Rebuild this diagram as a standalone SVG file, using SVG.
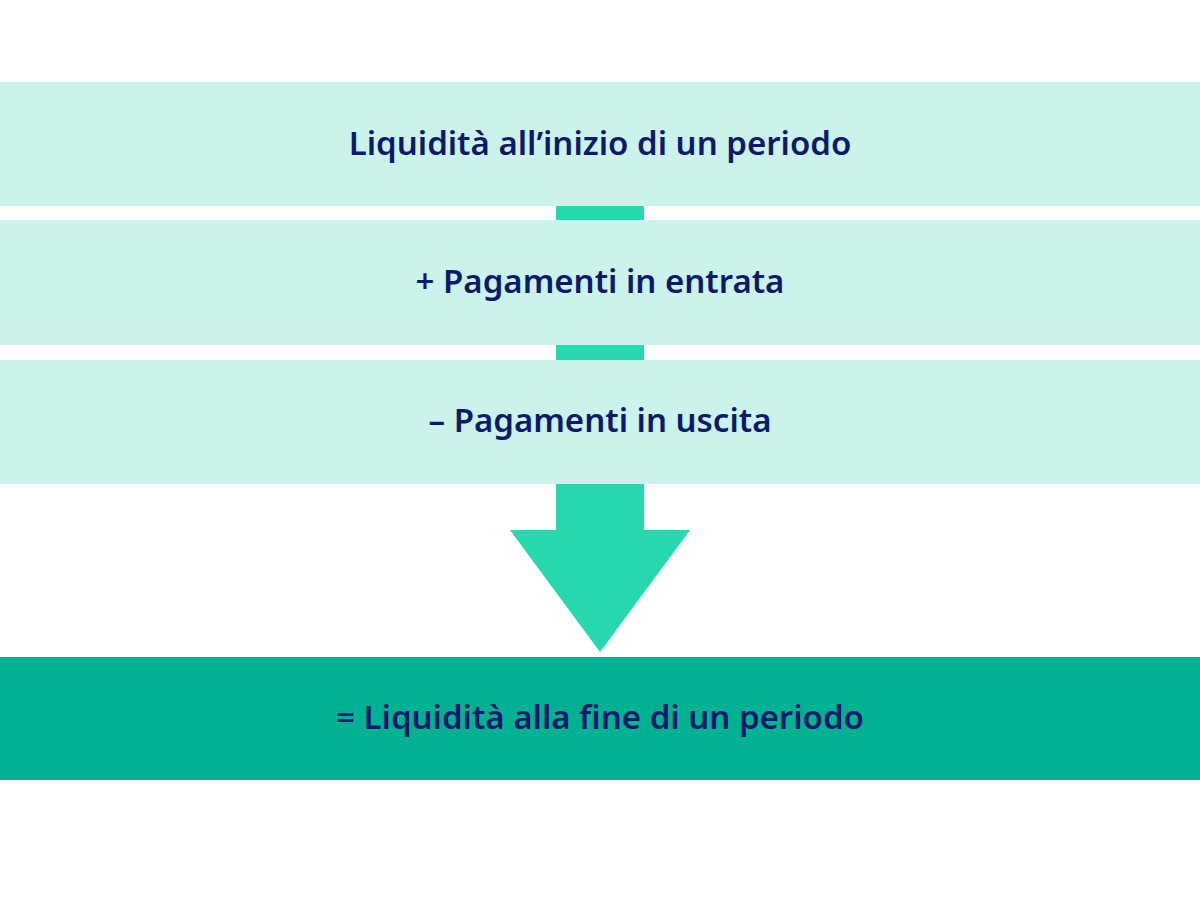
<svg xmlns="http://www.w3.org/2000/svg" width="1200" height="900" viewBox="0 0 1200 900">
<style>
.band{fill:#ccf2ec}
.final{fill:#00b292}
.conn{fill:#25d8ad}
.lbl{font-family:"Noto Sans","Liberation Sans",sans-serif;font-size:33px;font-weight:600;fill:#0c1a6c;text-anchor:middle}
</style>
<rect width="1200" height="900" fill="#ffffff"/>
<g id="connectors">
<rect class="conn" x="556" y="206" width="88" height="14"/>
<rect class="conn" x="556" y="345" width="88" height="15"/>
<path class="conn" d="M556 484 H644 V530 H690 L600 652 L510 530 H556 Z"/>
</g>
<g id="node1">
<rect class="band" x="0" y="82" width="1200" height="124"/>
<text class="lbl" x="600" y="155">Liquidità all’inizio di un periodo</text>
</g>
<g id="node2">
<rect class="band" x="0" y="220" width="1200" height="125"/>
<text class="lbl" x="600" y="293">+ Pagamenti in entrata</text>
</g>
<g id="node3">
<rect class="band" x="0" y="360" width="1200" height="124"/>
<text class="lbl" x="600" y="432">– Pagamenti in uscita</text>
</g>
<g id="node4">
<rect class="final" x="0" y="657" width="1200" height="123"/>
<text class="lbl" x="600" y="729">= Liquidità alla fine di un periodo</text>
</g>
</svg>
